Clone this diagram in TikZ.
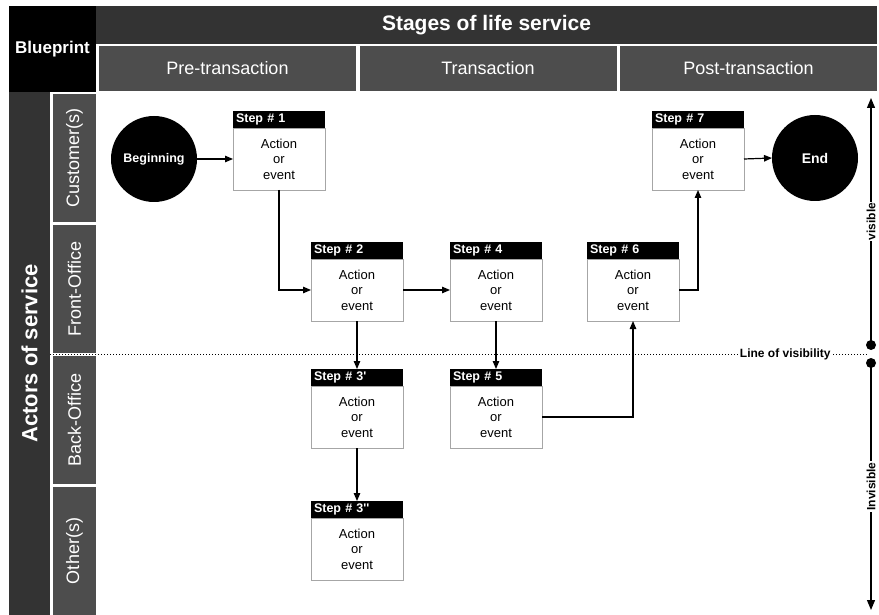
\documentclass[tikz,border=0pt]{standalone}
\usepackage{fontspec}
\setmainfont{Liberation Sans}[Ligatures = TeXOff]
\usetikzlibrary{positioning,arrows.meta}
\definecolor{bandgray}{HTML}{333333}
\definecolor{lanegray}{HTML}{4D4D4D}

\begin{document}
\begin{tikzpicture}
    [
        x = 1pt, y = -1pt,
        every node/.append style = {inner sep = 0, outer sep = 0},
        band/.style = {fill = bandgray, text = white, anchor = north west},
        phase/.style = {fill = lanegray, text = white, minimum width = 257pt, minimum height = 45pt, font = \fontsize{18}{20}\selectfont},
        lane/.style = {fill = lanegray, text = white, rotate = 90, minimum width = 128pt, minimum height = 43pt, font = \fontsize{18}{20}\selectfont},
        stephead/.style = {fill = black, text = white, anchor = north west, minimum height = 17pt, text width = 86pt, inner xsep = 3pt, align = left, font = \fontsize{12.5}{14}\bfseries},
        stepbody/.style = {draw = gray!70, fill = white, minimum width = 92pt, minimum height = 62pt, align = center, font = \fontsize{13}{15.5}\selectfont},
        terminal/.style = {circle, fill = black, text = white, minimum size = 86pt, font = \fontsize{12.5}{14}\bfseries},
        flow/.style = {line width = 1.2pt, -{Triangle[length = 8pt, width = 6.5pt]}},
        side/.style = {line width = 1.2pt, -{Triangle[length = 10pt, width = 8pt]}},
        sidelabel/.style = {fill = white, rotate = 90, inner xsep = 1pt, font = \fontsize{12}{14}\bfseries}]

    \useasboundingbox (0,0) rectangle (879,615);

    % headers
    \node [band, fill = black, minimum width = 87pt, minimum height = 86pt, font = \fontsize{17}{19}\bfseries] (blueprint) at (9,6) {Blueprint};
    \node [band, minimum width = 781pt, minimum height = 38pt, font = \fontsize{21}{24}\bfseries] (stages) at (96,6) {Stages of life service};
    \node [phase] (pre) at (227.5,68.5) {Pre-transaction};
    \node [phase] (trans) at (488,68.5) {Transaction};
    \node [phase] (post) at (748.5,68.5) {Post-transaction};

    % actors and lanes
    \node [fill = bandgray, text = white, rotate = 90, minimum width = 523pt, minimum height = 41pt, font = \fontsize{22}{24}\bfseries] (actors) at (29.5,353.5) {Actors of service};
    \node [lane] (customer) at (74.5,158) {Customer(s)};
    \node [lane] (front) at (74.5,289) {Front-Office};
    \node [lane] (back) at (74.5,420) {Back-Office};
    \node [lane] (other) at (74.5,551) {Other(s)};

    % line of visibility
    \coordinate (lvleft) at (50,354);
    \coordinate (lvright) at (867,354);
    \draw [dotted, line width = 1pt] (lvleft) -- (lvright)
        node [pos = 0.9, fill = white, inner xsep = 1pt, font = \fontsize{12}{14}\bfseries] (lvlabel) {Line of visibility};

    % steps
    \node [terminal] (begin) at (154,159) {Beginning};
    \node [stephead] (s1h) at (233,111) {Step \# 1};
    \node [stepbody, below = 0pt of s1h] (s1) {Action\\or\\event};
    \node [stephead] (s2h) at (311,242) {Step \# 2};
    \node [stepbody, below = 0pt of s2h] (s2) {Action\\or\\event};
    \node [stephead] (s4h) at (450,242) {Step \# 4};
    \node [stepbody, below = 0pt of s4h] (s4) {Action\\or\\event};
    \node [stephead] (s6h) at (587,242) {Step \# 6};
    \node [stepbody, below = 0pt of s6h] (s6) {Action\\or\\event};
    \node [stephead] (s7h) at (652,111) {Step \# 7};
    \node [stepbody, below = 0pt of s7h] (s7) {Action\\or\\event};
    \node [terminal, font = \fontsize{14}{16}\bfseries] (end) at (815,158) {End};
    \node [stephead] (s3ah) at (311,369) {Step \# 3'};
    \node [stepbody, below = 0pt of s3ah] (s3a) {Action\\or\\event};
    \node [stephead] (s5h) at (450,369) {Step \# 5};
    \node [stepbody, below = 0pt of s5h] (s5) {Action\\or\\event};
    \node [stephead] (s3bh) at (311,501) {Step \# 3''};
    \node [stepbody, below = 0pt of s3bh] (s3b) {Action\\or\\event};

    \draw [flow] (begin.east) -- (s1.west);
    \draw [flow] (s1.south) |- (s2.west);
    \draw [flow] (s2.east) -- (s4.west);
    \draw [flow] (s2.south) -- (s3ah.north);
    \draw [flow] (s4.south) -- (s5h.north);
    \draw [flow] (s3a.south) -- (s3bh.north);
    \draw [flow] (s5.east) -| (s6.south);
    \draw [flow] (s6.east) -| (s7.south);
    \draw [flow] (s7.east) -- (end.west);

    % visible / invisible
    \node [circle, fill, minimum size = 10pt] (visdot) at (871,345) {};
    \node [circle, fill, minimum size = 10pt] (invisdot) at (871,363) {};
    \coordinate (vistop) at (871,98);
    \coordinate (invisbottom) at (871,610);
    \draw [side] (visdot.center) -- (vistop) node [midway, sidelabel] (vislabel) {visible};
    \draw [side] (invisdot.center) -- (invisbottom) node [midway, sidelabel] (invislabel) {Invisible};

\end{tikzpicture}
\end{document}
